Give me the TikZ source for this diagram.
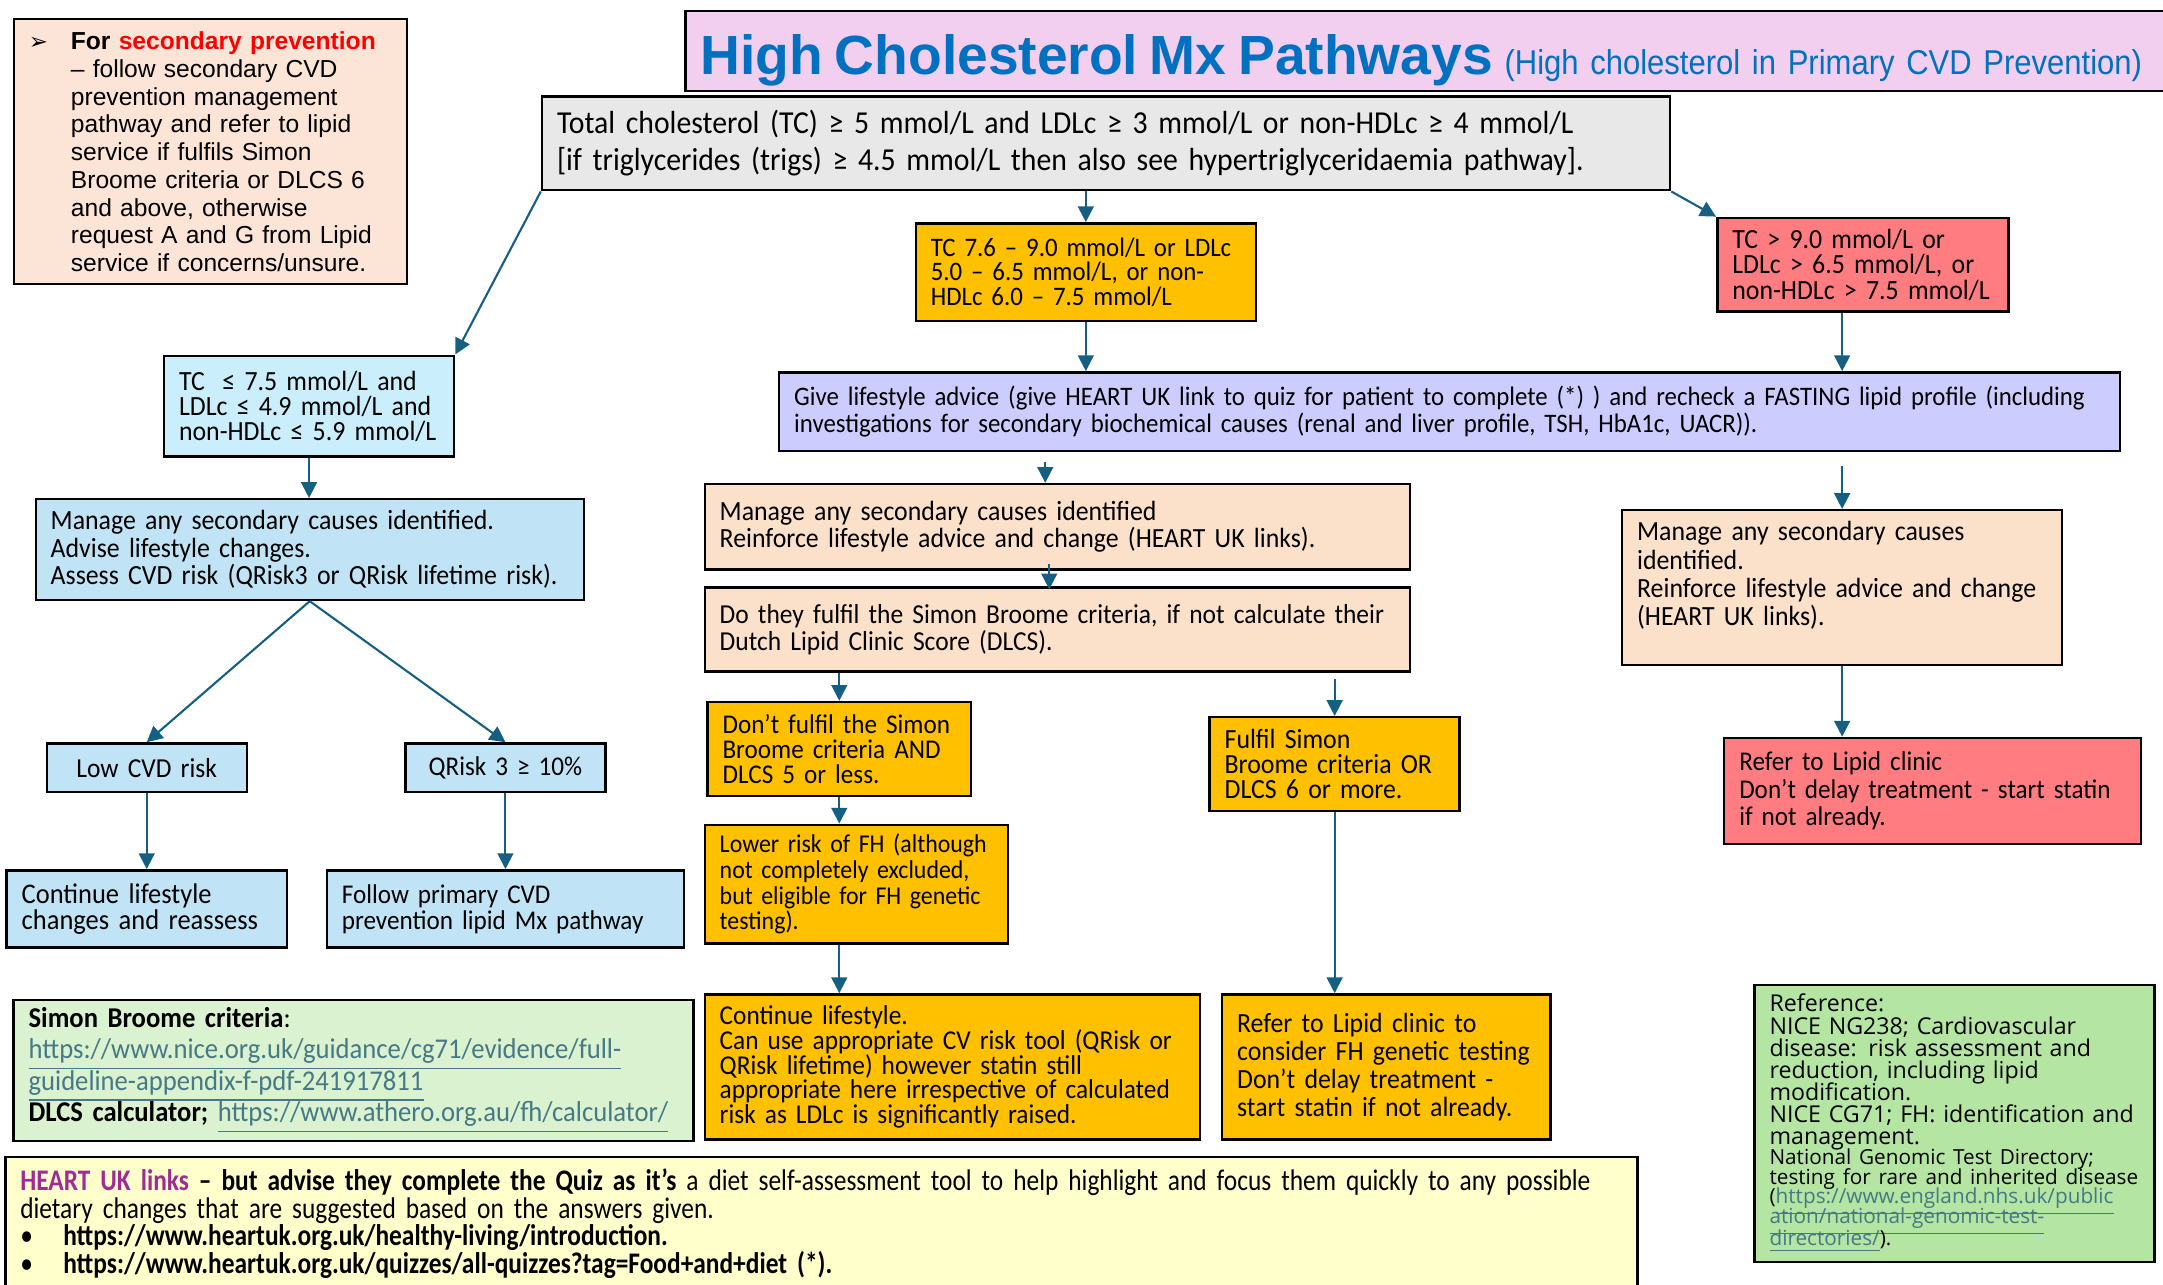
\documentclass[tikz,border=0pt]{standalone}
\usepackage{fontspec}
\setmainfont[FakeStretch=0.93]{Carlito}
\newfontfamily\narrowcarlito[FakeStretch=0.85]{Carlito}
\newfontfamily\arialfont{Liberation Sans}
\newfontfamily\arialnarrow[FakeStretch=0.9]{Liberation Sans}
\newfontfamily\symfont{DejaVu Sans}
\newfontfamily\reffont{Open Sans}
\usepackage{xcolor}
\usepackage{tikz}
\usetikzlibrary{arrows.meta, calc}

\definecolor{titlepink}{HTML}{F2CEEF}
\definecolor{titleblue}{HTML}{0070C0}
\definecolor{secpeach}{HTML}{FCE4D6}
\definecolor{greyfill}{HTML}{E8E8E8}
\definecolor{amber}{HTML}{FFC000}
\definecolor{salmon}{HTML}{FF7C80}
\definecolor{lavender}{HTML}{CCCCFF}
\definecolor{skyfill}{HTML}{CAEEFB}
\definecolor{bluefill}{HTML}{C0E4F5}
\definecolor{peach}{HTML}{FBE0CA}
\definecolor{palegreen}{HTML}{DAF2D0}
\definecolor{refgreen}{HTML}{B4E5A2}
\definecolor{paleyellow}{HTML}{FFFFCC}
\definecolor{arrowteal}{HTML}{156082}
\definecolor{linkteal}{HTML}{467886}
\definecolor{heartpurple}{HTML}{A02B93}

\newcommand{\fsize}[2]{\fontsize{#1}{#2}\selectfont}
\newcommand{\weblink}[1]{\textcolor{linkteal}{\underline{#1}}}
\hyphenpenalty=10000
\exhyphenpenalty=10000

\begin{document}
\begin{tikzpicture}[
  box/.style={rectangle, draw=black, line width=0.7pt, anchor=north west, align=left, inner xsep=0.15cm, inner ysep=0.03cm,
    execute at begin node={\lineskiplimit=-10pt\lineskip=0pt}},
  greybox/.style={box, fill=greyfill},
  orangebox/.style={box, fill=amber},
  redbox/.style={box, fill=salmon},
  bluebox/.style={box, fill=bluefill},
  peachbox/.style={box, fill=peach},
  arrow/.style={-{Triangle[length=4.5pt,width=4.5pt]}, draw=arrowteal, line width=0.6pt}
]
\clip (0,0) rectangle (21.63,-12.84);

% notes and title
\node[box, fill=secpeach, text width=3.63cm, minimum height=2.65cm, font=\arialfont\fsize{7}{7.9}] (sec) at (0.127,-0.18)
  {\makebox[0.42cm][l]{{\symfont\fsize{6.5}{7}➢}}\parbox[t]{3.2cm}{\raggedright\textbf{For \textcolor{red}{secondary prevention}}\\
   – follow secondary CVD\\ prevention management\\ pathway and refer to lipid\\ service if fulfils Simon\\
   Broome criteria or DLCS 6\\ and above, otherwise\\ request A and G from Lipid\\ service if concerns/unsure.}};
\node[box, fill=titlepink, text width=14.7cm, minimum height=0.8cm, text height=0.5cm, text depth=0.03cm, inner ysep=0pt] (title) at (6.842,-0.097)
  {{\arialfont\bfseries\fsize{15.7}{18}\textcolor{titleblue}{High Cholesterol Mx Pathways}} {\arialnarrow\fsize{9.8}{12}\textcolor{titleblue}{(High cholesterol in Primary CVD Prevention)}}};

% top of the pathway
\node[greybox, text width=10.98cm, minimum height=0.938cm, font=\fsize{9.1}{10.6}] (tc) at (5.408,-0.952)
  {Total cholesterol (TC) ≥ 5 mmol/L and LDLc ≥ 3 mmol/L or non-HDLc ≥ 4 mmol/L\\
   {[}if triglycerides (trigs) ≥ 4.5 mmol/L then also see hypertriglyceridaemia pathway].};
\node[orangebox, text width=3.1cm, minimum height=0.979cm, font=\fsize{7.6}{7.1}] (mid) at (9.146,-2.221)
  {TC 7.6 – 9.0 mmol/L or LDLc\\ 5.0 – 6.5 mmol/L, or non-\\ HDLc 6.0 – 7.5 mmol/L};
\node[redbox, text width=2.61cm, minimum height=0.938cm, font=\fsize{7.9}{7.3}] (high) at (17.161,-2.166)
  {TC > 9.0 mmol/L or\\ LDLc > 6.5 mmol/L, or\\ non-HDLc > 7.5 mmol/L};
\node[box, fill=lavender, text width=13.11cm, minimum height=0.786cm, font=\fsize{7.6}{7.85}] (advice) at (7.780,-3.711)
  {Give lifestyle advice (give HEART UK link to quiz for patient to complete (*) ) and recheck a FASTING lipid profile (including\\
   investigations for secondary biochemical causes (renal and liver profile, TSH, HbA1c, UACR)).};

% left branch
\node[box, fill=skyfill, text width=2.6cm, minimum height=1.007cm, font=\fsize{7.9}{7.1}] (low) at (1.628,-3.545)
  {TC\hspace{0.3em} ≤ 7.5 mmol/L and\\ LDLc ≤ 4.9 mmol/L and\\ non-HDLc ≤ 5.9 mmol/L};
\node[bluebox, text width=5.18cm, minimum height=1.007cm, font=\fsize{7.9}{7.85}] (manL) at (0.345,-4.980)
  {Manage any secondary causes identified.\\ Advise lifestyle changes.\\ Assess CVD risk (QRisk3 or QRisk lifetime risk).};
\node[bluebox, align=center, text width=1.7cm, minimum height=0.483cm, font=\fsize{7.8}{8}] (lowrisk) at (0.455,-7.422) {Low CVD risk};
\node[bluebox, align=center, text width=1.7cm, minimum height=0.483cm, font=\fsize{7.7}{8}] (qrisk) at (4.042,-7.422) {QRisk 3 ≥ 10\%};
\node[bluebox, text width=2.5cm, minimum height=0.773cm, font=\fsize{8.1}{7.45}] (contL) at (0.055,-8.691)
  {Continue lifestyle\\ changes and reassess};
\node[bluebox, text width=3.27cm, minimum height=0.773cm, font=\fsize{7.7}{7.45}] (follow) at (3.256,-8.691)
  {Follow primary CVD\\ prevention lipid Mx pathway};
\node[box, fill=palegreen, text width=6.5cm, minimum height=1.407cm, font=\fsize{8.15}{8.9}] (simon) at (0.124,-9.988)
  {\textbf{Simon Broome criteria}:\\ \weblink{https://www.nice.org.uk/guidance/cg71/evidence/full-}\\ \weblink{guideline-appendix-f-pdf-241917811}\\
   \textbf{DLCS calculator;} \weblink{https://www.athero.org.au/fh/calculator/}};

% middle branch
\node[peachbox, text width=6.75cm, minimum height=0.855cm, font=\fsize{7.9}{7.85}] (manM) at (7.035,-4.828)
  {Manage any secondary causes identified\\ Reinforce lifestyle advice and change (HEART UK links).};
\node[peachbox, text width=6.75cm, minimum height=0.841cm, font=\fsize{7.8}{7.85}] (dlcs) at (7.035,-5.863)
  {Do they fulfil the Simon Broome criteria, if not calculate their\\ Dutch Lipid Clinic Score (DLCS).};
\node[orangebox, text width=2.335cm, minimum height=0.938cm, font=\fsize{7.7}{7.1}] (notfh) at (7.063,-7.008)
  {Don’t fulfil the Simon\\ Broome criteria AND\\ DLCS 5 or less.};
\node[orangebox, text width=2.735cm, minimum height=1.186cm, font=\fsize{7.3}{7.3}] (lowfh) at (7.035,-8.236)
  {Lower risk of FH (although\\ not completely excluded,\\ but eligible for FH genetic\\ testing).};
\node[orangebox, text width=2.2cm, minimum height=0.938cm, font=\fsize{7.9}{7.1}] (fulfil) at (12.084,-7.160)
  {Fulfil Simon\\ Broome criteria OR\\ DLCS 6 or more.};
\node[orangebox, text width=4.653cm, minimum height=1.449cm, font=\fsize{7.75}{7.1}] (contO) at (7.035,-9.932)
  {Continue lifestyle.\\ Can use appropriate CV risk tool (QRisk or\\ QRisk lifetime) however statin still\\
   appropriate here irrespective of calculated\\ risk as LDLc is significantly raised.};
\node[orangebox, text width=2.983cm, minimum height=1.449cm, font=\fsize{7.9}{8}] (referfh) at (12.209,-9.932)
  {Refer to Lipid clinic to\\ consider FH genetic testing\\ Don’t delay treatment -\\ start statin if not already.};

% right branch
\node[peachbox, text width=4.1cm, minimum height=1.545cm, font=\fsize{7.9}{8}] (manR) at (16.209,-5.090)
  {Manage any secondary causes\\ identified.\\ Reinforce lifestyle advice and change\\ (HEART UK links).\\ \mbox{}};
\node[redbox, text width=3.866cm, minimum height=1.062cm, font=\fsize{7.7}{7.85}] (refer) at (17.230,-7.367)
  {Refer to Lipid clinic\\ Don’t delay treatment - start statin\\ if not already.};
\node[box, fill=refgreen, text width=3.7cm, minimum height=2.773cm, font=\reffont\fsize{6.6}{6.3}] (ref) at (17.533,-9.836)
  {Reference:\\ NICE NG238; Cardiovascular\\ disease: risk assessment and\\ reduction, including lipid\\ modification.\\
   NICE CG71; FH: identification and\\ management.\par
   \fsize{5.9}{5.6}National Genomic Test Directory;\\ testing for rare and inherited disease\\
   (\weblink{https://www.england.nhs.uk/public}\\ \weblink{ation/national-genomic-test-}\\ \weblink{directories/}).};

% links note
\node[box, fill=paleyellow, text width=16.02cm, minimum height=1.45cm, font=\narrowcarlito\fsize{8.5}{7.85}] (heart) at (0.041,-11.560)
  {\textcolor{heartpurple}{\textbf{HEART UK links}} \textbf{– but advise they complete the Quiz as it’s} a diet self-assessment tool to help highlight and focus them quickly to any possible\\
   dietary changes that are suggested based on the answers given.\\
   \makebox[0.43cm][l]{•}\textbf{https://www.heartuk.org.uk/healthy-living/introduction.}\\
   \makebox[0.43cm][l]{•}\textbf{https://www.heartuk.org.uk/quizzes/all-quizzes?tag=Food+and+diet (*).}\\[-3pt] \mbox{}};

% connectors
\draw[arrow] (tc.south west) -- (low.north east);
\draw[arrow] (mid.north |- tc.south) -- (mid.north);
\draw[arrow] (tc.south east) -- (high.north west);
\draw[arrow] (mid.south) -- (mid.south |- advice.north);
\draw[arrow] (high.south -| manR.north) -- (manR.north |- advice.north);
\draw[arrow] ($(manM.north |- advice.south)+(-0.12,-0.1)$) -- ($(manM.north)+(-0.12,0)$);
\draw[arrow] ($(manR.north |- advice.south)+(0,-0.14)$) -- (manR.north);
\draw[arrow] ($(manM.south)+(-0.08,0.07)$) -- ($(dlcs.north)+(-0.08,-0.03)$);
\draw[arrow] (notfh.north |- dlcs.south) -- (notfh.north);
\draw[arrow] ($(fulfil.north |- dlcs.south)+(0,-0.06)$) -- (fulfil.north);
\draw[arrow] (notfh.south) -- (notfh.south |- lowfh.north);
\draw[arrow] (notfh.south |- lowfh.south) -- (notfh.south |- contO.north);
\draw[arrow] (fulfil.south) -- (fulfil.south |- referfh.north);
\draw[arrow] (manR.south) -- (manR.south |- refer.north);
\draw[arrow] (low.south) -- (low.south |- manL.north);
\draw[arrow] (manL.south) -- (lowrisk.north);
\draw[arrow] (manL.south) -- (qrisk.north);
\draw[arrow] (lowrisk.south) -- (lowrisk.south |- contL.north);
\draw[arrow] (qrisk.south) -- (qrisk.south |- follow.north);

\end{tikzpicture}
\end{document}
